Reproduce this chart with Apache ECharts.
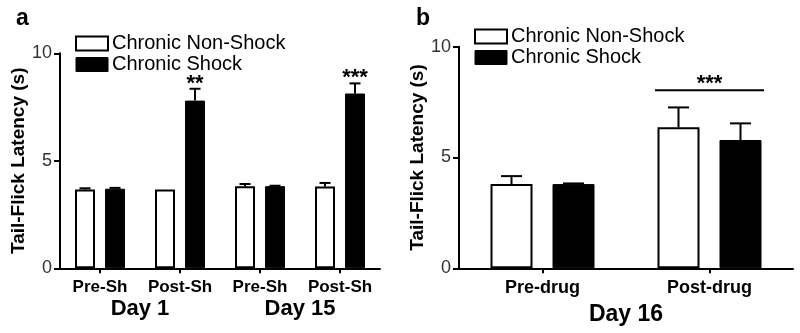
<!DOCTYPE html>
<html>
<head>
<meta charset="utf-8">
<script src="https://cdn.jsdelivr.net/npm/echarts@6/dist/echarts.min.js"></script>
<style>
html,body{margin:0;padding:0;background:#fff;}
#chart{width:800px;height:333px;}
</style>
</head>
<body>
<div id="chart"></div>
<script>
// ---------- data ----------
const seriesNames = ['Chronic Non-Shock', 'Chronic Shock'];
const yTicks = [0, 5, 10];

// panel a
const catsA = ['Pre-Sh', 'Post-Sh', 'Pre-Sh', 'Post-Sh'];
const daysA = ['Day 1', 'Day 15'];
const nonShockA = [3.67, 3.67, 3.82, 3.80];
const nonShockErrA = [0.05, 0.0, 0.10, 0.17];
const shockA = [3.70, 7.80, 3.82, 8.13];
const shockErrA = [0.04, 0.55, 0.02, 0.47];
const sigA = ['', '**', '', '***'];

// panel b
const catsB = ['Pre-drug', 'Post-drug'];
const daysB = ['Day 16'];
const nonShockB = [3.80, 6.36];
const nonShockErrB = [0.36, 0.90];
const shockB = [3.80, 5.79];
const shockErrB = [0.03, 0.75];
const sigB = [{ cat: 1, value: 8.04, text: '***' }];

// ---------- style ----------
const FONT = '"Liberation Sans", Arial, Helvetica, sans-serif';
const barWA = 20, gapA = 10, capA = 11;
const barWB = 42, gapB = 20, capB = 21;

function errData(vals, errs) {
  return vals.map((v, i) => [i, v, errs[i]]);
}

function errRender(offset, capW) {
  return function (params, api) {
    const err = api.value(2);
    if (!(err > 0)) return null;
    const cx = api.coord([api.value(0), 0])[0] + offset;
    const yBar = api.coord([api.value(0), api.value(1)])[1];
    const yTop = api.coord([api.value(0), api.value(1) + err])[1];
    const st = { stroke: '#000', lineWidth: 2 };
    return {
      type: 'group',
      children: [
        { type: 'line', shape: { x1: cx, y1: yBar, x2: cx, y2: yTop }, style: st },
        { type: 'line', shape: { x1: cx - capW / 2, y1: yTop, x2: cx + capW / 2, y2: yTop }, style: st }
      ]
    };
  };
}

function sigRenderA(offset) {
  return function (params, api) {
    const txt = sigA[api.value(0)];
    if (!txt) return null;
    const cx = api.coord([api.value(0), 0])[0] + offset;
    const yTop = api.coord([api.value(0), api.value(1) + api.value(2)])[1];
    return {
      type: 'text',
      style: { x: cx, y: yTop - 5, text: txt, align: 'center', verticalAlign: 'middle',
               font: 'bold 22px ' + FONT, fill: '#000' }
    };
  };
}

function sigRenderB(halfSpan) {
  return function (params, api) {
    const cx = api.coord([api.value(0), 0])[0];
    const y = api.coord([api.value(0), api.value(1)])[1];
    return {
      type: 'group',
      children: [
        { type: 'line', shape: { x1: cx - halfSpan, y1: y, x2: cx + halfSpan, y2: y },
          style: { stroke: '#000', lineWidth: 2 } },
        { type: 'text', style: { x: cx, y: y - 6.5, text: sigB[params.dataIndex].text,
          align: 'center', verticalAlign: 'middle', font: 'bold 22px ' + FONT, fill: '#000' } }
      ]
    };
  };
}

const axisLineStyle = { show: true, lineStyle: { color: '#000', width: 2 } };

function yAxisDef(gridIndex) {
  return {
    type: 'value', gridIndex: gridIndex,
    min: yTicks[0], max: yTicks[yTicks.length - 1], interval: yTicks[1] - yTicks[0],
    splitLine: { show: false },
    axisLine: axisLineStyle,
    axisTick: { show: true, length: 6, lineStyle: { color: '#000', width: 2 } },
    axisLabel: { fontSize: 18, color: '#333', fontFamily: FONT, margin: 8 },
    name: 'Tail-Flick Latency (s)', nameLocation: 'middle', nameGap: 26,
    nameTextStyle: { fontSize: 19, fontWeight: 'bold', color: '#000', fontFamily: FONT }
  };
}

function legendDef(left, top) {
  return {
    orient: 'vertical', left: left, top: top, padding: 0,
    itemWidth: 32, itemHeight: 14, itemGap: 0,
    icon: 'rect',
    selectedMode: false,
    textStyle: { fontSize: 20, color: '#000', fontFamily: FONT, lineHeight: 21, padding: [0, 0, 0, -1] },
    data: [
      { name: seriesNames[0], itemStyle: { color: '#fff', borderColor: '#000', borderWidth: 2 } },
      { name: seriesNames[1], itemStyle: { color: '#000', borderColor: '#000', borderWidth: 1 } }
    ]
  };
}

const option = {
  animation: false,
  backgroundColor: '#fff',
  textStyle: { fontFamily: FONT },
  grid: [
    { left: 60, top: 53.3, width: 320, height: 215 },
    { left: 459, top: 46.7, width: 334, height: 221.6 }
  ],
  legend: [legendDef(75, 33), legendDef(474, 26)],
  graphic: [
    { type: 'text', left: 16, top: 7, style: { text: 'a', font: 'bold 23px ' + FONT, fill: '#000' } },
    { type: 'text', left: 416, top: 7, style: { text: 'b', font: 'bold 23px ' + FONT, fill: '#000' } }
  ],
  xAxis: [
    {
      type: 'category', gridIndex: 0, data: catsA, position: 'bottom',
      axisLine: axisLineStyle,
      axisTick: { show: true, alignWithLabel: true, length: 5, lineStyle: { color: '#000', width: 2 } },
      axisLabel: { fontSize: 17, fontWeight: 'bold', color: '#000', fontFamily: FONT, margin: 11, interval: 0 }
    },
    {
      type: 'category', gridIndex: 0, data: daysA, position: 'bottom', offset: 0,
      axisLine: { show: false }, axisTick: { show: false },
      axisLabel: { fontSize: 22, fontWeight: 'bold', color: '#000', fontFamily: FONT, margin: 30, interval: 0 }
    },
    {
      type: 'category', gridIndex: 1, data: catsB, position: 'bottom',
      axisLine: axisLineStyle,
      axisTick: { show: true, alignWithLabel: true, length: 5, lineStyle: { color: '#000', width: 2 } },
      axisLabel: { fontSize: 18, fontWeight: 'bold', color: '#000', fontFamily: FONT, margin: 11, interval: 0 }
    },
    {
      type: 'category', gridIndex: 1, data: daysB, position: 'bottom', offset: 0,
      axisLine: { show: false }, axisTick: { show: false },
      axisLabel: { fontSize: 23, fontWeight: 'bold', color: '#000', fontFamily: FONT, margin: 35, interval: 0 }
    }
  ],
  yAxis: [yAxisDef(0), yAxisDef(1)],
  series: [
    { name: seriesNames[0], type: 'bar', xAxisIndex: 0, yAxisIndex: 0, data: nonShockA,
      barWidth: barWA, barGap: (gapA / barWA * 100) + '%',
      itemStyle: { color: '#fff', borderColor: '#000', borderWidth: 2 } },
    { name: seriesNames[1], type: 'bar', xAxisIndex: 0, yAxisIndex: 0, data: shockA,
      barWidth: barWA, barGap: (gapA / barWA * 100) + '%',
      itemStyle: { color: '#000', borderColor: '#000', borderWidth: 1 } },
    { name: seriesNames[0], type: 'bar', xAxisIndex: 2, yAxisIndex: 1, data: nonShockB,
      barWidth: barWB, barGap: (gapB / barWB * 100) + '%',
      itemStyle: { color: '#fff', borderColor: '#000', borderWidth: 2 } },
    { name: seriesNames[1], type: 'bar', xAxisIndex: 2, yAxisIndex: 1, data: shockB,
      barWidth: barWB, barGap: (gapB / barWB * 100) + '%',
      itemStyle: { color: '#000', borderColor: '#000', borderWidth: 1 } },
    { type: 'custom', xAxisIndex: 0, yAxisIndex: 0, z: 3, data: errData(nonShockA, nonShockErrA),
      encode: { x: 0, y: 1 }, renderItem: errRender(-(barWA + gapA) / 2, capA) },
    { type: 'custom', xAxisIndex: 0, yAxisIndex: 0, z: 3, data: errData(shockA, shockErrA),
      encode: { x: 0, y: 1 }, renderItem: errRender((barWA + gapA) / 2, capA) },
    { type: 'custom', xAxisIndex: 2, yAxisIndex: 1, z: 3, data: errData(nonShockB, nonShockErrB),
      encode: { x: 0, y: 1 }, renderItem: errRender(-(barWB + gapB) / 2, capB) },
    { type: 'custom', xAxisIndex: 2, yAxisIndex: 1, z: 3, data: errData(shockB, shockErrB),
      encode: { x: 0, y: 1 }, renderItem: errRender((barWB + gapB) / 2, capB) },
    { type: 'custom', xAxisIndex: 0, yAxisIndex: 0, z: 4, data: errData(shockA, shockErrA),
      encode: { x: 0, y: 1 }, renderItem: sigRenderA((barWA + gapA) / 2) },
    { type: 'custom', xAxisIndex: 2, yAxisIndex: 1, z: 4, data: sigB.map(s => [s.cat, s.value]),
      encode: { x: 0, y: 1 }, renderItem: sigRenderB(barWB + gapB / 2 + 2.5) }
  ]
};

const chart = echarts.init(document.getElementById('chart'), null, { renderer: 'canvas' });
chart.setOption(option);
</script>
</body>
</html>
